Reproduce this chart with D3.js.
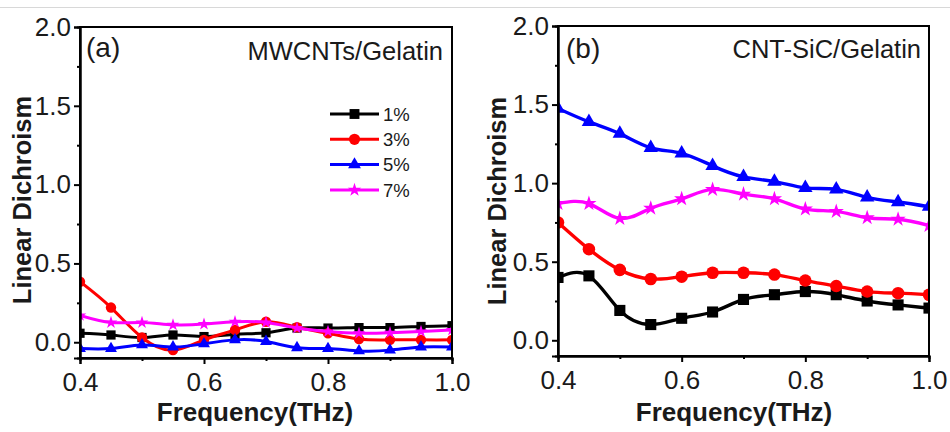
<!DOCTYPE html>
<html>
<head>
<meta charset="utf-8">
<script src="https://cdn.jsdelivr.net/npm/d3@7"></script>
<style>
  html, body { margin: 0; padding: 0; background: #fff; }
  svg { display: block; font-family: "Liberation Sans", Arial, sans-serif; }
</style>
</head>
<body>
<svg id="chart" width="950" height="432"></svg>
<script>
// x positions (THz) shared by every series
const freq = [0.40, 0.45, 0.50, 0.55, 0.60, 0.65, 0.70, 0.75, 0.80, 0.85, 0.90, 0.95, 1.00];
const seriesNames = ['1%', '3%', '5%', '7%'];

// panel (a) MWCNTs/Gelatin
const mw1 = [0.057, 0.046, 0.030, 0.046, 0.036, 0.050, 0.060, 0.090, 0.090, 0.093, 0.093, 0.100, 0.105];
const mw3 = [0.384, 0.220, 0.030, -0.050, 0.015, 0.078, 0.130, 0.095, 0.057, 0.020, 0.015, 0.015, 0.015];
const mw5 = [-0.040, -0.040, -0.017, -0.030, -0.010, 0.015, 0.005, -0.035, -0.040, -0.055, -0.050, -0.030, -0.030];
const mw7 = [0.170, 0.125, 0.125, 0.110, 0.115, 0.130, 0.125, 0.090, 0.068, 0.057, 0.060, 0.068, 0.078];

// panel (b) CNT-SiC/Gelatin
const cs1 = [0.400, 0.410, 0.190, 0.100, 0.140, 0.180, 0.260, 0.290, 0.310, 0.290, 0.250, 0.225, 0.205];
const cs3 = [0.750, 0.580, 0.448, 0.390, 0.405, 0.430, 0.430, 0.418, 0.380, 0.345, 0.310, 0.300, 0.290];
const cs5 = [1.475, 1.390, 1.315, 1.225, 1.190, 1.110, 1.040, 1.010, 0.970, 0.960, 0.910, 0.880, 0.850];
const cs7 = [0.870, 0.870, 0.775, 0.840, 0.900, 0.960, 0.930, 0.900, 0.835, 0.820, 0.780, 0.770, 0.730];

const xTicks = [0.4, 0.6, 0.8, 1.0];
const xMinor = [0.5, 0.7, 0.9];
const yTicks = [0.0, 0.5, 1.0, 1.5, 2.0];
const yMinor = [0.25, 0.75, 1.25, 1.75];

const colors = ['#000000', '#ff0000', '#0000ff', '#ff00ff'];
const symbols = [d3.symbolSquare, d3.symbolCircle, d3.symbolTriangle, d3.symbolStar];
const markSizes = [85, 85, 62, 50];

const svg = d3.select('#chart');

// thin grey rule across the top of the image
svg.append('line')
  .attr('x1', 0).attr('x2', 950)
  .attr('y1', 7.5).attr('y2', 7.5)
  .attr('stroke', '#d8d8d8')
  .attr('stroke-width', 1);

const panels = [
  {
    id: 'a', tag: '(a)', title: 'MWCNTs/Gelatin',
    series: [mw1, mw3, mw5, mw7],
    left: 80, right: 452, top: 27, bottom: 358,
    tagX: 86, tagY: 57, titleX: 443, titleY: 59.5,
    yTitleX: 22, yTitleY: 200, xTitleX: 255,
    markScale: 1, lineW: 3, legend: true
  },
  {
    id: 'b', tag: '(b)', title: 'CNT-SiC/Gelatin',
    series: [cs1, cs3, cs5, cs7],
    left: 558, right: 929, top: 26, bottom: 356,
    tagX: 566, tagY: 58, titleX: 921, titleY: 57.5,
    yTitleX: 497, yTitleY: 201, xTitleX: 734,
    markScale: 1.45, lineW: 3.4, legend: false
  }
];

panels.forEach(p => {
  const x = d3.scaleLinear().domain([0.4, 1.0]).range([p.left, p.right]);
  const y = d3.scaleLinear().domain([-0.1, 2.0]).range([p.bottom, p.top]);
  const g = svg.append('g');

  g.append('clipPath').attr('id', 'clip-' + p.id)
    .append('rect')
    .attr('x', p.left).attr('y', p.top)
    .attr('width', p.right - p.left).attr('height', p.bottom - p.top);

  const plot = g.append('g').attr('clip-path', `url(#clip-${p.id})`);

  const line = d3.line()
    .x((d, i) => x(freq[i]))
    .y(d => y(d))
    .curve(d3.curveNatural);

  p.series.forEach((vals, si) => {
    plot.append('path')
      .datum(vals)
      .attr('d', line)
      .attr('fill', 'none')
      .attr('stroke', colors[si])
      .attr('stroke-width', p.lineW);

    plot.selectAll(null)
      .data(vals)
      .join('path')
      .attr('transform', (d, i) => `translate(${x(freq[i])},${y(d)})`)
      .attr('d', d3.symbol().type(symbols[si]).size(markSizes[si] * p.markScale))
      .attr('fill', colors[si]);
  });

  // frame
  g.append('rect')
    .attr('x', p.left).attr('y', p.top)
    .attr('width', p.right - p.left).attr('height', p.bottom - p.top)
    .attr('fill', 'none')
    .attr('stroke', '#000')
    .attr('stroke-width', 2);

  // axes
  g.append('g')
    .attr('transform', `translate(0,${p.bottom})`)
    .call(d3.axisBottom(x).tickValues(xTicks).tickFormat(d3.format('.1f')).tickSize(6).tickPadding(9));
  g.append('g')
    .attr('transform', `translate(0,${p.bottom})`)
    .call(d3.axisBottom(x).tickValues(xMinor).tickFormat('').tickSize(3));

  g.append('g')
    .attr('transform', `translate(${p.left},0)`)
    .call(d3.axisLeft(y).tickValues(yTicks).tickFormat(d3.format('.1f')).tickSize(6).tickPadding(3));
  g.append('g')
    .attr('transform', `translate(${p.left},0)`)
    .call(d3.axisLeft(y).tickValues(yMinor).tickFormat('').tickSize(3));

  g.selectAll('.domain').attr('stroke', '#000').attr('stroke-width', 2);
  g.selectAll('.tick line').attr('stroke', '#000').attr('stroke-width', 2);
  g.selectAll('.tick text')
    .attr('fill', '#1a1a1a')
    .style('font-size', '26px');

  // texts
  g.append('text')
    .attr('x', p.tagX).attr('y', p.tagY)
    .style('font-size', '28px')
    .attr('fill', '#1a1a1a')
    .text(p.tag);
  g.append('text')
    .attr('x', p.titleX).attr('y', p.titleY)
    .attr('text-anchor', 'end')
    .style('font-size', '25.5px')
    .attr('fill', '#1a1a1a')
    .text(p.title);

  g.append('text')
    .attr('transform', `translate(${p.yTitleX + 9},${p.yTitleY}) rotate(-90)`)
    .attr('text-anchor', 'middle')
    .style('font-size', '25.5px')
    .style('font-weight', 'bold')
    .attr('fill', '#1a1a1a')
    .text('Linear Dichroism');

  g.append('text')
    .attr('x', p.xTitleX).attr('y', 421)
    .attr('text-anchor', 'middle')
    .style('font-size', '26px')
    .style('font-weight', 'bold')
    .attr('fill', '#1a1a1a')
    .text('Frequency(THz)');

  if (p.legend) {
    const lg = g.append('g').attr('transform', 'translate(330,114)');
    seriesNames.forEach((name, si) => {
      const row = lg.append('g').attr('transform', `translate(0,${si * 25.3})`);
      row.append('line')
        .attr('x1', 0).attr('x2', 49)
        .attr('stroke', colors[si])
        .attr('stroke-width', 3);
      row.append('path')
        .attr('transform', 'translate(24.5,0)')
        .attr('d', d3.symbol().type(symbols[si]).size(markSizes[si] * 1.15))
        .attr('fill', colors[si]);
      row.append('text')
        .attr('x', 53).attr('y', 0)
        .attr('dy', '0.36em')
        .style('font-size', '18.5px')
        .attr('fill', '#1a1a1a')
        .text(name);
    });
  }
});
</script>
</body>
</html>
